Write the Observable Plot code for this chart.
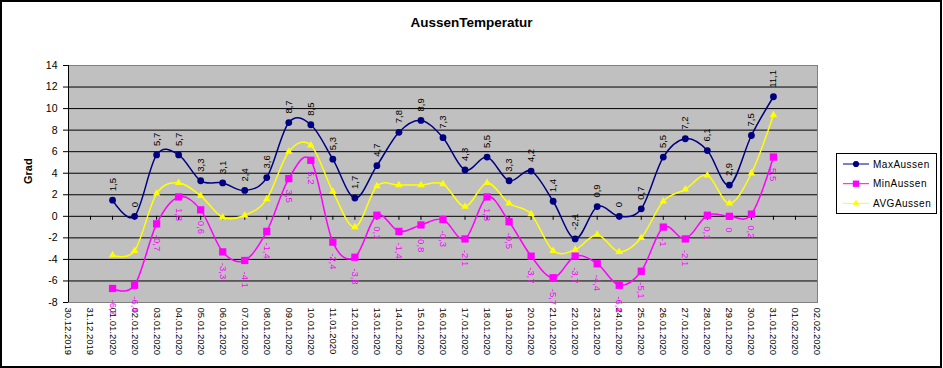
<!DOCTYPE html>
<html><head><meta charset="utf-8">
<script src="https://cdn.jsdelivr.net/npm/d3@7"></script>
<script src="https://cdn.jsdelivr.net/npm/@observablehq/plot@0.6"></script>
<style>
body{margin:0;background:#fff;font-family:"Liberation Sans",Arial,sans-serif;}
#chart{position:relative;width:943px;height:368px;overflow:hidden;background:#fff;}
#title{height:45px;line-height:45px;text-align:center;font-weight:bold;font-size:13.5px;color:#000;}
#plot{position:absolute;left:0;top:45px;}
#legend{position:absolute;left:836px;top:153px;width:99px;height:59px;border:1px solid #000;background:#fff;}
#border{position:absolute;left:0;top:0;width:942px;height:368px;box-sizing:border-box;border:2px solid #000;pointer-events:none;}
</style></head>
<body><div id="chart"><div id="title">AussenTemperatur</div><div id="plot"></div><div id="legend"></div><div id="border"></div></div>
<script>
const dates = ["01.01.2020","02.01.2020","03.01.2020","04.01.2020","05.01.2020","06.01.2020","07.01.2020","08.01.2020","09.01.2020","10.01.2020","11.01.2020","12.01.2020","13.01.2020","14.01.2020","15.01.2020","16.01.2020","17.01.2020","18.01.2020","19.01.2020","20.01.2020","21.01.2020","22.01.2020","23.01.2020","24.01.2020","25.01.2020","26.01.2020","27.01.2020","28.01.2020","29.01.2020","30.01.2020","31.01.2020"];
const maxAussen = [1.5,0,5.7,5.7,3.3,3.1,2.4,3.6,8.7,8.5,5.3,1.7,4.7,7.8,8.9,7.3,4.3,5.5,3.3,4.2,1.4,-2.1,0.9,0,0.7,5.5,7.2,6.1,2.9,7.5,11.1];
const minAussen = [-6.7,-6.4,-0.7,1.8,0.6,-3.3,-4.1,-1.4,3.5,5.2,-2.4,-3.8,0.1,-1.4,-0.8,-0.3,-2.1,1.8,-0.5,-3.7,-5.7,-3.7,-4.4,-6.4,-5.1,-1,-2.1,0.1,0,0.2,5.5];
const avgAussen = [-3.6,-3.2,2.1,3.1,1.9,-0.1,0.1,1.6,6.0,6.6,2.3,-1.0,2.8,2.9,2.9,3.0,0.9,3.1,1.2,0.2,-3.2,-3.1,-1.7,-3.3,-2.0,1.4,2.5,3.8,1.2,4.0,9.4];
const xTickLabels = ["30.12.2019","31.12.2019","01.01.2020","02.01.2020","03.01.2020","04.01.2020","05.01.2020","06.01.2020","07.01.2020","08.01.2020","09.01.2020","10.01.2020","11.01.2020","12.01.2020","13.01.2020","14.01.2020","15.01.2020","16.01.2020","17.01.2020","18.01.2020","19.01.2020","20.01.2020","21.01.2020","22.01.2020","23.01.2020","24.01.2020","25.01.2020","26.01.2020","27.01.2020","28.01.2020","29.01.2020","30.01.2020","31.01.2020","01.02.2020","02.02.2020"];
const yTicks = [-8,-6,-4,-2,0,2,4,6,8,10,12,14];
const gridValues = [-6,-4,-2,0,2,4,6,8,10,12];
const seriesNames = ["MaxAussen","MinAussen","AVGAussen"];
const seriesColors = ["#000080","#ff00ff","#ffff00"];

const parse = d3.utcParse("%d.%m.%Y");
const data = dates.map((d,i)=>({date: parse(d), max: maxAussen[i], min: minAussen[i], avg: avgAussen[i]}));
const ticks = xTickLabels.map(parse);
const fmt = v => String(v).replace(".", ",");

const plot = Plot.plot({
  width: 943, height: 323,
  marginLeft: 68, marginRight: 126, marginTop: 20, marginBottom: 66,
  style: {fontFamily: "Liberation Sans, Arial, sans-serif", fontSize: "10px", background: "transparent", overflow: "visible", color: "#000"},
  x: {type: "utc", domain: [ticks[0], ticks[ticks.length-1]]},
  y: {domain: [-8, 14]},
  marks: [
    Plot.frame({fill: "#c0c0c0", stroke: "none"}),
    Plot.ruleY(gridValues, {stroke: "#000", strokeWidth: 1}),
    Plot.ruleX(ticks, {x: d=>d, y1: ()=>0, y2: ()=>0, insetBottom: -4, stroke: "#000"}),
    Plot.frame({stroke: "#808080", fill: "none"}),
    Plot.ruleX([ticks[0]], {stroke: "#000"}),
    Plot.axisY({ticks: yTicks, tickSize: 5, tickPadding: 6, tickFormat: d=>String(d), label: null, fontSize: 10.5}),
    Plot.axisX({ticks: ticks, tickSize: 0, tickPadding: 5, tickRotate: 90, tickFormat: d3.utcFormat("%d.%m.%Y"), label: null, fontSize: 9.5}),
    Plot.text(["Grad"], {frameAnchor: "left", dx: -40, rotate: -90, fontWeight: "bold", fontSize: 11, fill: "#000"}),
    Plot.line(data, {x: "date", y: "avg", stroke: seriesColors[2], curve: "cardinal"}),
    Plot.line(data, {x: "date", y: "min", stroke: seriesColors[1], curve: "cardinal"}),
    Plot.line(data, {x: "date", y: "max", stroke: seriesColors[0], curve: "cardinal"}),
    Plot.dot(data, {x: "date", y: "avg", symbol: "triangle", r: 2.8, fill: seriesColors[2], stroke: "none"}),
    Plot.dot(data, {x: "date", y: "min", symbol: "square", r: 4.1, fill: seriesColors[1], stroke: "none"}),
    Plot.dot(data, {x: "date", y: "max", symbol: "circle", r: 3.4, fill: seriesColors[0], stroke: "none"}),
    Plot.text(data, {x: "date", y: "max", text: d=>fmt(d.max), rotate: -90, textAnchor: "start", dy: -9, fill: "#000", fontSize: 9.5}),
    Plot.text(data, {x: "date", y: "min", text: d=>fmt(d.min), rotate: 90, textAnchor: "start", dy: 11, fill: "#ff00ff", fontSize: 9.5})
  ]
});
document.getElementById("plot").appendChild(plot);

// legend
const lsvg = d3.select("#legend").append("svg").attr("width", 99).attr("height", 59)
  .style("font-family", "Liberation Sans, Arial, sans-serif");
const symbols = [d3.symbolCircle, d3.symbolSquare, d3.symbolTriangle];
const sizes = [30, 40, 20];
seriesNames.forEach((name, i) => {
  const y = 10 + i * 19.7;
  lsvg.append("line").attr("x1", 6).attr("x2", 32).attr("y1", y).attr("y2", y).attr("stroke", seriesColors[i]);
  lsvg.append("path").attr("d", d3.symbol(symbols[i], sizes[i])()).attr("transform", `translate(19,${y})`).attr("fill", seriesColors[i]);
  lsvg.append("text").attr("x", 36).attr("y", y).attr("dy", "0.35em").attr("font-size", 10).attr("letter-spacing", 0.5).text(name);
});
</script>
</body></html>
